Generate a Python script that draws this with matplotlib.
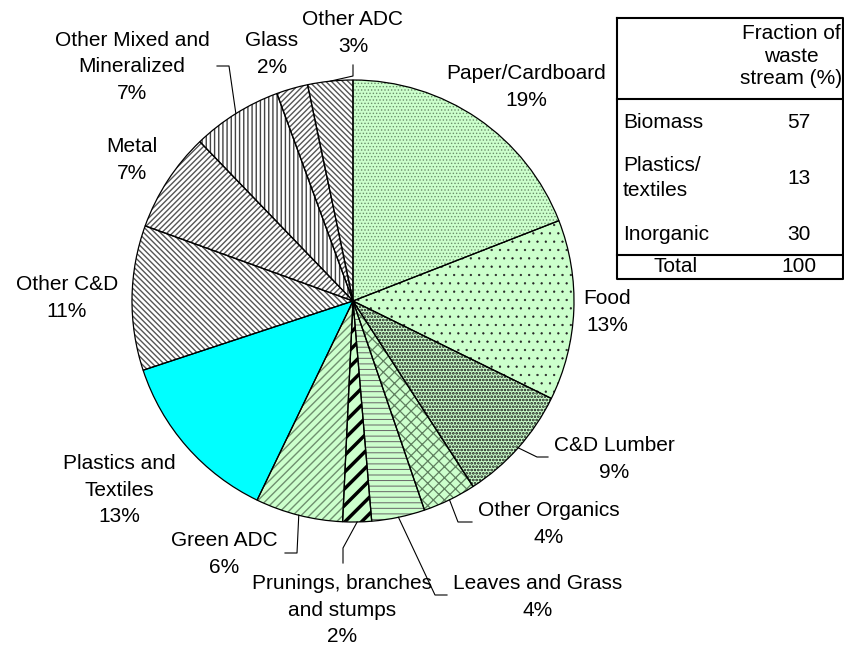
import numpy as np
import matplotlib.pyplot as plt

plt.rcParams['font.family'] = ['Liberation Sans', 'DejaVu Sans']

# waste stream composition (percent), clockwise from 12 o'clock
categories = ['Paper/Cardboard', 'Food', 'C&D Lumber', 'Other Organics',
              'Leaves and Grass', 'Prunings, branches\nand stumps', 'Green ADC',
              'Plastics and\nTextiles', 'Other C&D', 'Metal',
              'Other Mixed and\nMineralized', 'Glass', 'Other ADC']
values = [19.1, 13.2, 8.6, 3.9, 3.9, 2.1, 6.4, 12.8, 10.6, 7.3, 6.6, 2.3, 3.3]

# summary table
table_rows = ['Biomass', 'Plastics/\ntextiles', 'Inorganic']
table_vals = [57, 13, 30]
table_total = 100

W, H = 844, 647
FS = 15
fig = plt.figure(figsize=(W / 100, H / 100), dpi=100)
ax = fig.add_axes([0, 0, 1, 1])

def py(y):  # pixel row -> data y
    return H - y

cx, cy, R = 353, py(301), 221
lg = '#CCFFCC'
fills = [lg, lg, lg, lg, lg, lg, lg, '#00FFFF', 'white', 'white', 'white', 'white', 'white']
hatches = ['.....', '..', '.....', 'xxx', '---', '//', '////', '',
           '\\' * 6, '/' * 6, '||||', '/' * 6, '\\' * 6]
hcols = ['#6a8f6a', '#222222', '#111111', '#5f7f5f', '#666666', 'black', '#6f8f6f', 'black',
         '#555555', '#555555', '#444444', '#555555', '#555555']
hlws = [0.6, 0.4, 1.3, 0.9, 0.7, 2.5, 1.0, 1.0, 1.0, 1.0, 1.0, 1.0, 1.0]

# hatched fills
wedges, _ = ax.pie(values, center=(cx, cy), radius=R, startangle=90, counterclock=False,
                   colors=fills, wedgeprops=dict(linewidth=0), frame=True)
for w, h, c, lw in zip(wedges, hatches, hcols, hlws):
    w.set_hatch(h)
    w.set_edgecolor(c)
    w.set_linewidth(0)
    if hasattr(w, 'set_hatch_linewidth'):
        w.set_hatch_linewidth(lw)
# outlines on top
ax.pie(values, center=(cx, cy), radius=R, startangle=90, counterclock=False,
       colors=['none'] * len(values), wedgeprops=dict(edgecolor='black', linewidth=0.9),
       frame=True)
ax.set_xlim(0, W)
ax.set_ylim(0, H)
ax.set_aspect('equal')
ax.axis('off')

# label positions (pixel coords, centre of text block)
label_pos = [(526, 87), (607, 312), (614, 459), (549, 524), (538, 597), (342, 610),
             (224, 554), (119, 490), (67, 298), (132, 160), (132, 67), (272, 54), (353, 33)]
for name, v, (lx, ly) in zip(categories, values, label_pos):
    ax.text(lx, py(ly), f'{name}\n{round(v)}%', ha='center', va='center',
            fontsize=FS, linespacing=1.5)

# leader lines: wedge index -> (elbow, end) in pixels
leaders = {2: ((537, 457), (548, 457)), 3: ((458, 522), (472, 522)),
           4: ((435, 595), (447, 595)), 5: ((343, 548), (343, 563)),
           6: ((297, 553), (285, 553)), 10: ((229, 66), (217, 66)),
           12: ((353, 76), (353, 65))}
for i, (p1, p2) in leaders.items():
    th = np.deg2rad((wedges[i].theta1 + wedges[i].theta2) / 2)
    ex, ey = cx + R * np.cos(th), cy + R * np.sin(th)
    ax.plot([ex, p1[0], p2[0]], [ey, py(p1[1]), py(p2[1])], color='black', lw=0.8)

# table
tl, tr = 617, 843
ax.plot([tl, tr, tr, tl, tl], [py(18), py(18), py(279), py(279), py(18)], color='black', lw=1.5)
ax.plot([tl, tr], [py(99), py(99)], color='black', lw=1.5)
ax.plot([tl, tr], [py(255), py(255)], color='black', lw=1.5)
ax.text(791, py(56), 'Fraction of\nwaste\nstream (%)', ha='center', va='center',
        fontsize=FS, linespacing=1.25)
row_y = [123, 178, 235]
for name, v, ry in zip(table_rows, table_vals, row_y):
    ax.text(623, py(ry), name, ha='left', va='center', fontsize=FS, linespacing=1.45)
    ax.text(799, py(ry), str(v), ha='center', va='center', fontsize=FS)
ax.text(676, py(267), 'Total', ha='center', va='center', fontsize=FS)
ax.text(799, py(267), str(table_total), ha='center', va='center', fontsize=FS)

fig.savefig('out.png', dpi=100)
